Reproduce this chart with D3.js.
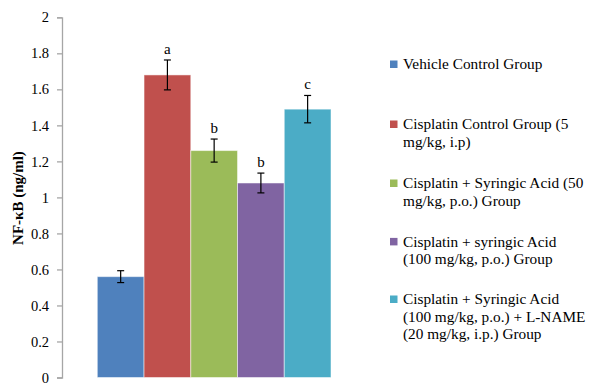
<!DOCTYPE html>
<html><head><meta charset="utf-8">
<script src="https://cdn.jsdelivr.net/npm/d3@7"></script>
<style>body{margin:0;background:#fff}svg{display:block}
svg text{font-family:"Liberation Serif","Times New Roman",serif}</style>
</head><body>
<svg id="c" width="589" height="383"></svg>
<script>
const groups = [
  "Vehicle Control Group",
  "Cisplatin Control Group (5 mg/kg, i.p)",
  "Cisplatin + Syringic Acid (50 mg/kg, p.o.) Group",
  "Cisplatin + syringic Acid (100 mg/kg, p.o.) Group",
  "Cisplatin + Syringic Acid (100 mg/kg, p.o.) + L-NAME (20 mg/kg, i.p.) Group"
];
const legendLines = [
  ["Vehicle Control Group"],
  ["Cisplatin Control Group (5", "mg/kg, i.p)"],
  ["Cisplatin + Syringic Acid (50", "mg/kg, p.o.) Group"],
  ["Cisplatin + syringic Acid", "(100 mg/kg, p.o.) Group"],
  ["Cisplatin + Syringic Acid", "(100 mg/kg, p.o.) + L-NAME", "(20 mg/kg, i.p.) Group"]
];
const values = [0.56, 1.68, 1.26, 1.08, 1.49];
const errors = [0.033, 0.083, 0.064, 0.055, 0.076];
const letters = ["", "a", "b", "b", "c"];
const colors = ["#4F81BD", "#C0504D", "#9BBB59", "#8064A2", "#4BACC6"];
const yTicks = [0, 0.2, 0.4, 0.6, 0.8, 1, 1.2, 1.4, 1.6, 1.8, 2];

const svg = d3.select("#c");
const mLeft = 62, mTop = 17.3, mBottom = 377.5;

const y = d3.scaleLinear().domain([0, 2]).range([mBottom, mTop]);
const x = d3.scaleBand().domain(groups).range([97.3, 331]).padding(0);

// y axis
const yAxis = d3.axisLeft(y).tickValues(yTicks).tickSize(5).tickPadding(8)
  .tickFormat(d => String(d));
const gy = svg.append("g").attr("transform", `translate(${mLeft},0)`).call(yAxis);
gy.attr("font-family", null);
gy.select(".domain").attr("stroke", "#A6A6A6").attr("stroke-width", 1.3);
gy.selectAll(".tick line").attr("stroke", "#A6A6A6").attr("stroke-width", 1.3);
gy.selectAll(".tick text").attr("font-size", 14.5).attr("fill", "#000");

// bars
svg.append("g").selectAll("rect").data(groups).join("rect")
  .attr("x", d => x(d))
  .attr("y", (d, i) => y(values[i]))
  .attr("width", x.bandwidth())
  .attr("height", (d, i) => y(0) - y(values[i]))
  .attr("fill", (d, i) => colors[i])
  .attr("stroke", "rgba(255,255,255,0.5)")
  .attr("stroke-width", 1);

// error bars
const eb = svg.append("g").attr("stroke", "#000").attr("stroke-width", 1.2);
groups.forEach((g, i) => {
  const cx = x(g) + x.bandwidth() / 2;
  const y1 = y(values[i] + errors[i]), y2 = y(values[i] - errors[i]);
  eb.append("line").attr("x1", cx).attr("x2", cx).attr("y1", y1).attr("y2", y2);
  eb.append("line").attr("x1", cx - 3.5).attr("x2", cx + 3.5).attr("y1", y1).attr("y2", y1);
  eb.append("line").attr("x1", cx - 3.5).attr("x2", cx + 3.5).attr("y1", y2).attr("y2", y2);
});

// letters
svg.append("g").selectAll("text").data(groups).join("text")
  .attr("x", d => x(d) + x.bandwidth() / 2)
  .attr("y", (d, i) => y(values[i] + errors[i]) - 6)
  .attr("text-anchor", "middle")
  .attr("font-size", 15)
  .text((d, i) => letters[i]);

// y label
svg.append("text")
  .attr("transform", `translate(23,198) rotate(-90)`)
  .attr("text-anchor", "middle")
  .attr("font-size", 15).attr("font-weight", "bold")
  .text("NF-κB (ng/ml)");

// legend
const legY = [64.3, 124.3, 183.3, 241.7, 299.3];
const lg = svg.append("g");
legendLines.forEach((lines, i) => {
  lg.append("rect").attr("x", 390).attr("y", legY[i] - 3.8).attr("width", 7.5).attr("height", 7.5)
    .attr("fill", colors[i]);
  lines.forEach((t, j) => {
    lg.append("text").attr("x", 403).attr("y", legY[i] + j * 17.5 + 5)
      .attr("font-size", 15.3).text(t);
  });
});
</script>
</body></html>
